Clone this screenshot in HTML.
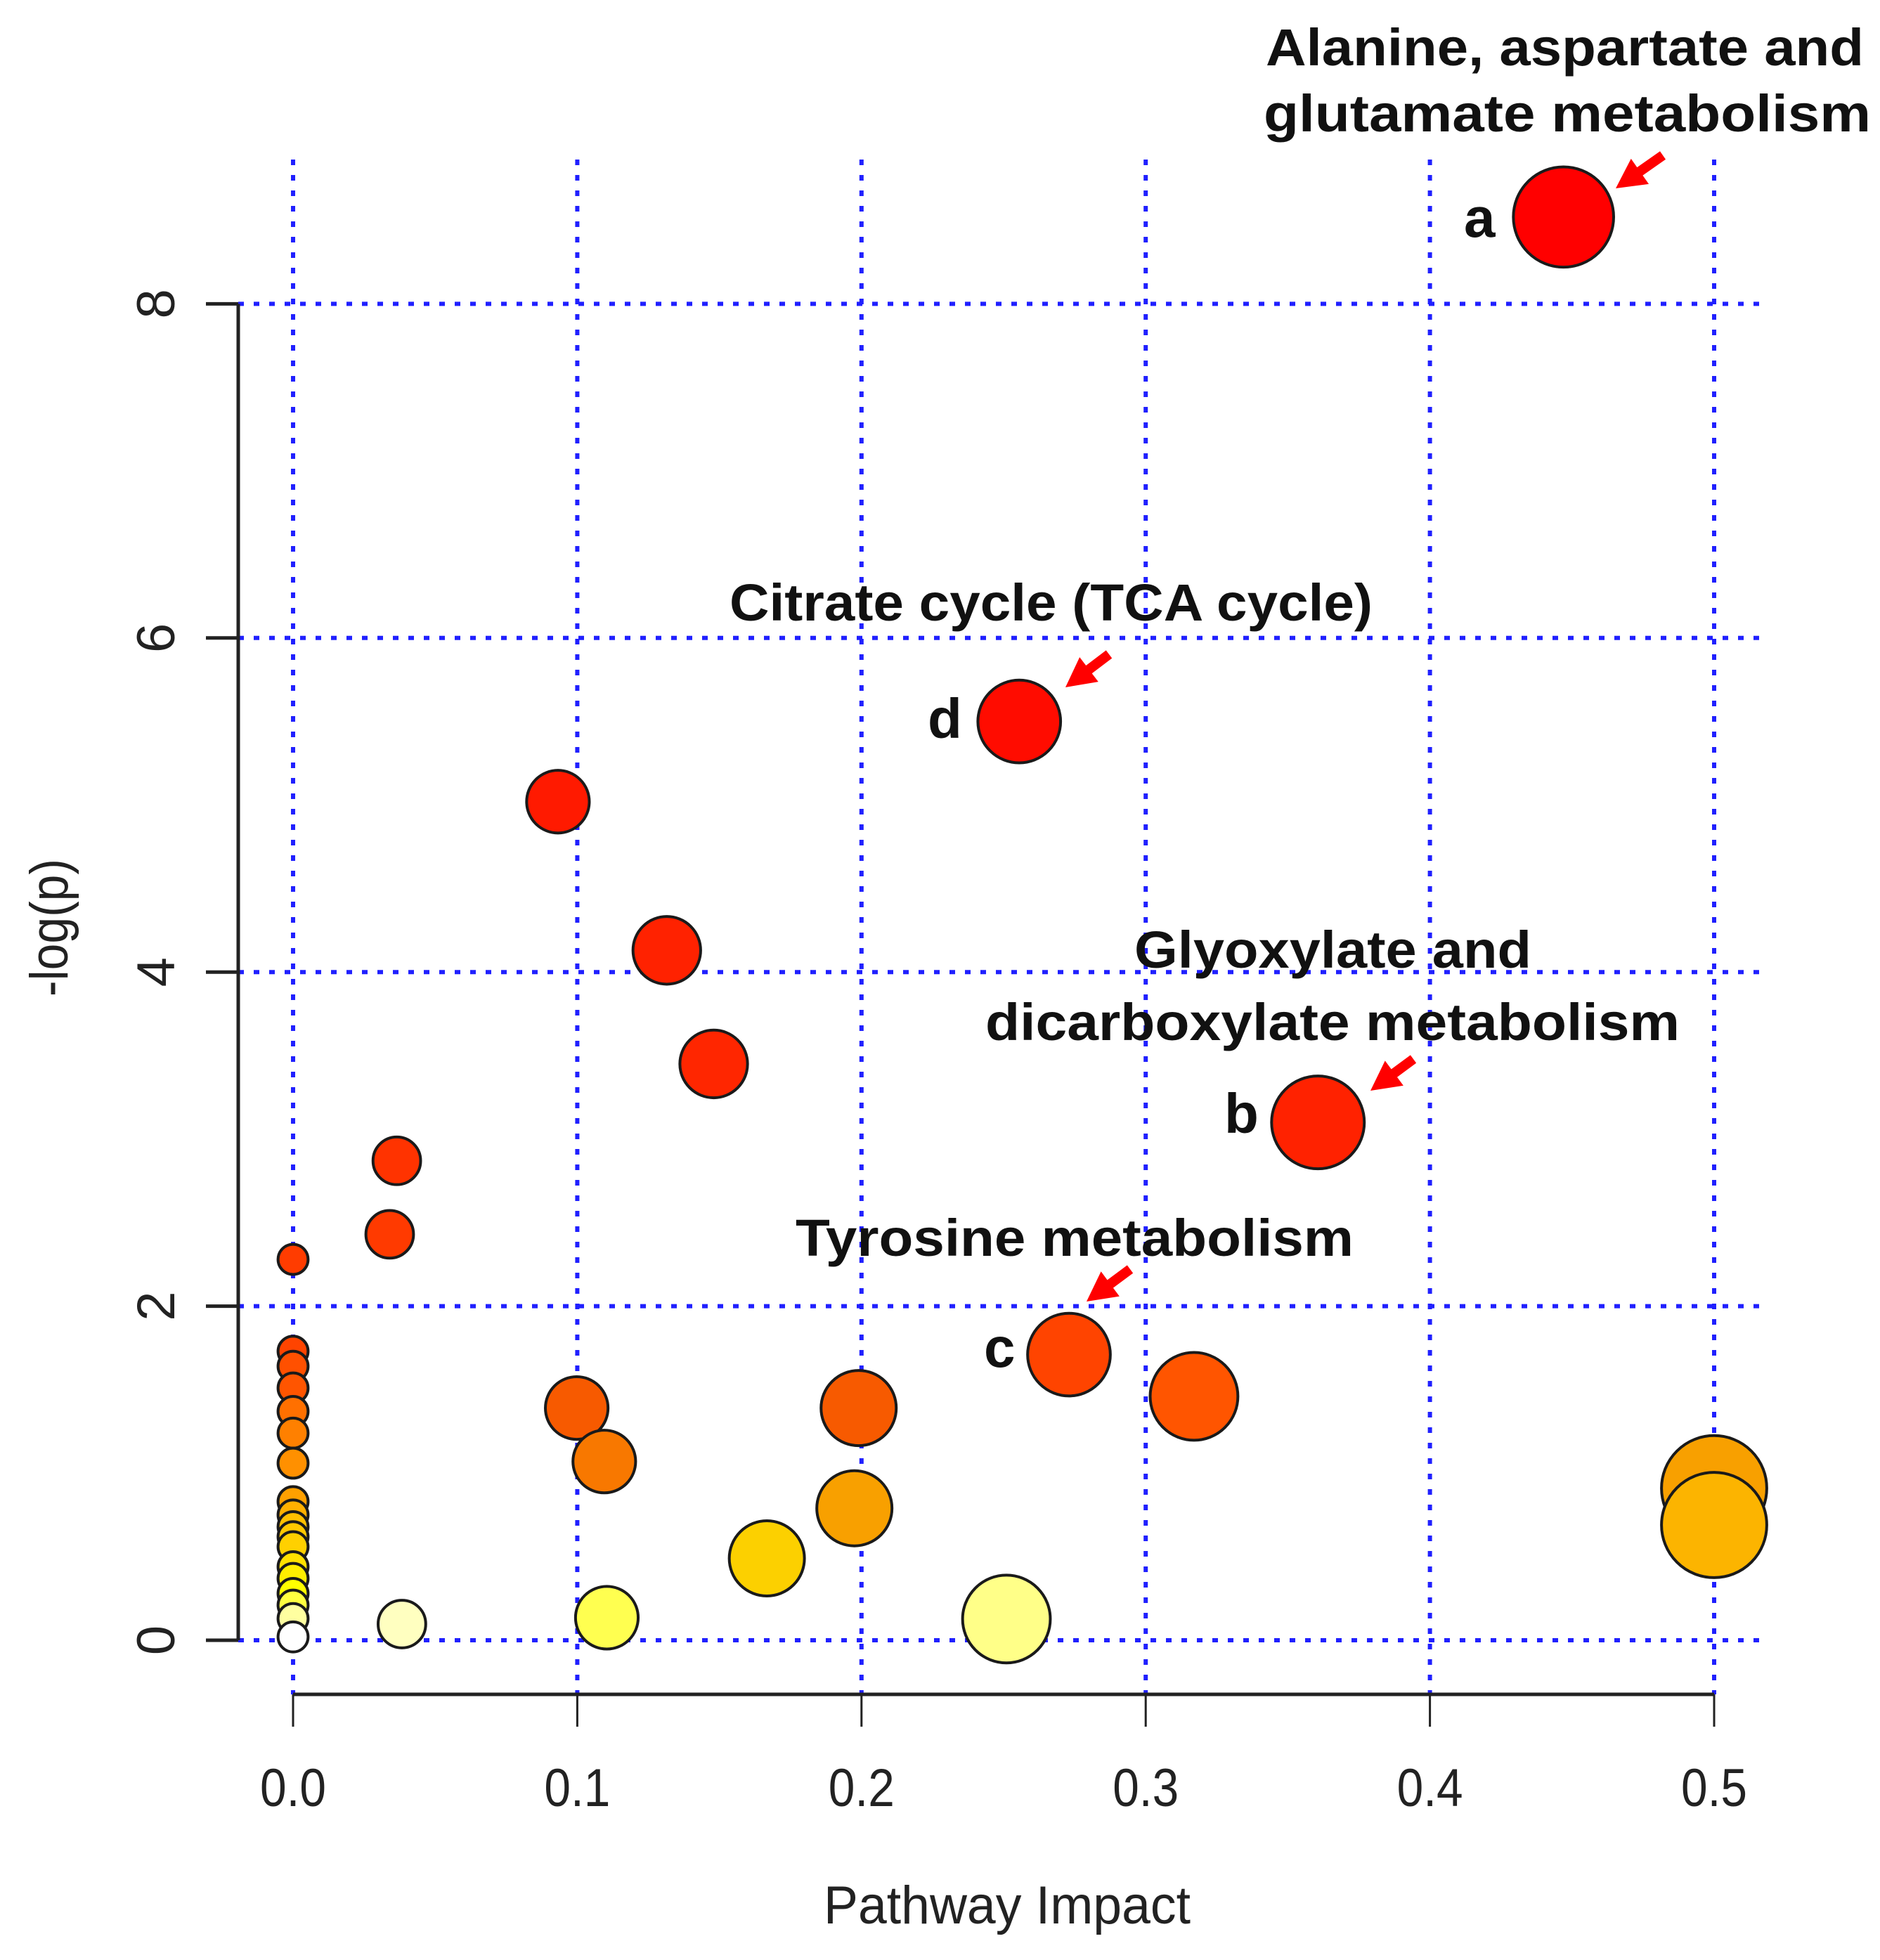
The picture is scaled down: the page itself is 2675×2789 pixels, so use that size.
<!DOCTYPE html>
<html><head><meta charset="utf-8"><style>
html,body{margin:0;padding:0;background:#fff}
svg{display:block}
</style></head><body>
<svg id="chart" width="2675" height="2789" viewBox="0 0 2675 2789" xmlns="http://www.w3.org/2000/svg">
<rect x="0" y="0" width="2675" height="2789" fill="#fff"/>
<g id="grid"></g>
<g id="axes"></g>
<g id="points"></g>
<g id="annot"></g>
</svg>
<script>
const xTicks = [0, 0.1, 0.2, 0.3, 0.4, 0.5];
const xTickLabels = ["0.0", "0.1", "0.2", "0.3", "0.4", "0.5"];
const yTicks = [0, 2, 4, 6, 8];
const yTickLabels = ["0", "2", "4", "6", "8"];
const impact = [0.0932,0.1315,0.148,0.0365,0.034,0,0.447,0.2555,0.3606,0.273,0.317,0.0998,0.199,0.1095,0.5,0.5,0.1975,0.1667,0.1104,0.251,0.0383,
 0,0,0,0,0,0,0,0,0,0,0,0,0,0,0,0,0];
const negLogP = [5.02,4.13,3.45,2.87,2.43,2.28,8.52,5.50,3.10,1.71,1.46,1.39,1.39,1.07,0.91,0.69,0.79,0.49,0.135,0.127,0.097,
 1.73,1.64,1.51,1.37,1.24,1.06,0.83,0.75,0.68,0.62,0.56,0.44,0.37,0.28,0.21,0.13,0.02];
const bubbleSize = [25,27,27,19,19,12,40,33,37,33,35,25,30,25,42,42,30,30,25,35,19,
 12,12,12,12,12,12,12,12,12,12,12,12,12,12,12,12,12];
const bubbleColor = ["#ff1a00","#ff2200","#ff2600","#ff3300","#ff3a00","#ff3c00","#ff0000","#ff0c00","#ff2200","#ff4400","#ff5500","#f75a00","#f75a00","#f87800","#f8a000","#fcb400","#f8a000","#fcd000","#ffff50","#ffff88","#ffffc0",
 "#ff4400","#ff5000","#ff5500","#ff7000","#ff8000","#ff9000","#ffa000","#ffb000","#ffc000","#ffc800","#ffd000","#ffe000","#ffee00","#ffff00","#ffff40","#ffffa0","#ffffff"];

const NS = "http://www.w3.org/2000/svg";
const X = v => 417 + v * 4044;
const Y = v => 2334 - v * 237.7;
const SZ = s => s * 1.783;
function mk(tag, attrs, parent, text) {
  const e = document.createElementNS(NS, tag);
  for (const k in attrs) e.setAttribute(k, attrs[k]);
  if (text !== undefined) e.textContent = text;
  parent.appendChild(e);
  return e;
}
const grid = document.getElementById('grid');
const axes = document.getElementById('axes');
const pts = document.getElementById('points');
const ann = document.getElementById('annot');
const gridStyle = {stroke: "#2020ff", "stroke-width": 6, "stroke-dasharray": "8 14", fill: "none"};

xTicks.forEach((t, i) => {
  const l = mk('line', Object.assign({x1: X(t), x2: X(t), y1: 227, y2: 2411}, gridStyle), grid);
  
  
  const tk = mk('line', {x1: X(t), x2: X(t), y1: 2411, y2: 2457, stroke: "#222", "stroke-width": 3}, axes);
  
  
  const tx = mk('text', {x: X(t), y: 2570, "font-family": "Liberation Sans, sans-serif", "font-size": 76, "text-anchor": "middle", textLength: 94, lengthAdjust: "spacingAndGlyphs", fill: "#222"}, axes, xTickLabels[i]);
  
  
});
yTicks.forEach((t, i) => {
  const l = mk('line', Object.assign({x1: 339, x2: 2517, y1: Y(t), y2: Y(t)}, gridStyle), grid);
  
  
  const tk = mk('line', {x1: 293, x2: 339, y1: Y(t), y2: Y(t), stroke: "#222", "stroke-width": 5}, axes);
  
  
  const tx = mk('text', {x: 0, y: 0, transform: `translate(248,${Y(t)}) rotate(-90)`, "font-family": "Liberation Sans, sans-serif", "font-size": 76, "text-anchor": "middle", fill: "#222"}, axes, yTickLabels[i]);
  
  
});
const xa = mk('line', {x1: X(0), x2: X(0.5), y1: 2411, y2: 2411, stroke: "#222", "stroke-width": 5}, axes);


const ya = mk('line', {x1: 339, x2: 339, y1: Y(8), y2: Y(0), stroke: "#222", "stroke-width": 5}, axes);


const xt = mk('text', {x: 1433, y: 2737, "font-family": "Liberation Sans, sans-serif", "font-size": 76, "text-anchor": "middle", textLength: 522, lengthAdjust: "spacingAndGlyphs", fill: "#222"}, axes, "Pathway Impact");


const yt = mk('text', {x: 0, y: 0, transform: "translate(96,1320) rotate(-90)", "font-family": "Liberation Sans, sans-serif", "font-size": 76, "text-anchor": "middle", textLength: 196, lengthAdjust: "spacingAndGlyphs", fill: "#222"}, axes, "-log(p)");



for (let i = 0; i < impact.length; i++) {
  const c = mk('circle', {cx: X(impact[i]), cy: Y(negLogP[i]), r: SZ(bubbleSize[i]), fill: bubbleColor[i], stroke: "#1a1a1a", "stroke-width": 4}, pts);
  
  
}

const tfont = {"font-family": "Liberation Sans, DejaVu Sans, sans-serif", "font-size": 74, fill: "#111", "font-weight": "bold"};
const labels = [
  ["Alanine, aspartate and", 1801, 93, 851, 'annotation-alanine-line1'],
  ["glutamate metabolism", 1798, 187, 864, 'annotation-alanine-line2'],
  ["Citrate cycle (TCA cycle)", 1038, 883, 915, 'annotation-citrate'],
  ["Glyoxylate and", 1614, 1377, 565, 'annotation-glyoxylate-line1'],
  ["dicarboxylate metabolism", 1402, 1480, 988, 'annotation-glyoxylate-line2'],
  ["Tyrosine metabolism", 1132, 1787, 794, 'annotation-tyrosine']
];
labels.forEach(l => {
  const t = mk('text', Object.assign({x: l[1], y: l[2], textLength: l[3], lengthAdjust: "spacingAndGlyphs"}, tfont), ann, l[0]);
  
  
});
const letters = [["a", 2083, 337], ["d", 1320, 1050], ["b", 1742, 1612], ["c", 1400, 1945]];
letters.forEach(l => {
  const t = mk('text', Object.assign({x: l[1], y: l[2]}, tfont, {"font-size": 80}), ann, l[0]);
  
  
});
function arrow(x1, y1, x2, y2, name) {
  const dx = x2 - x1, dy = y2 - y1, L = Math.hypot(dx, dy);
  const ux = dx / L, uy = dy / L, px = -uy, py = ux;
  const hl = 42, hw = 22, sw = 7;
  const bx = x2 - ux * hl, by = y2 - uy * hl;
  const p = [
    [x1 + px * sw, y1 + py * sw], [bx + px * sw, by + py * sw], [bx + px * hw, by + py * hw],
    [x2, y2], [bx - px * hw, by - py * hw], [bx - px * sw, by - py * sw], [x1 - px * sw, y1 - py * sw]
  ].map(q => q.join(',')).join(' ');
  const a = mk('polygon', {points: p, fill: "#ff0000"}, ann);
  
  
}
arrow(2366, 221, 2299, 268, 'arrow-a');
arrow(1578, 931, 1516, 978, 'arrow-d');
arrow(2011, 1507, 1950, 1552, 'arrow-b');
arrow(1608, 1806, 1546, 1852, 'arrow-c');
</script>
</body></html>
